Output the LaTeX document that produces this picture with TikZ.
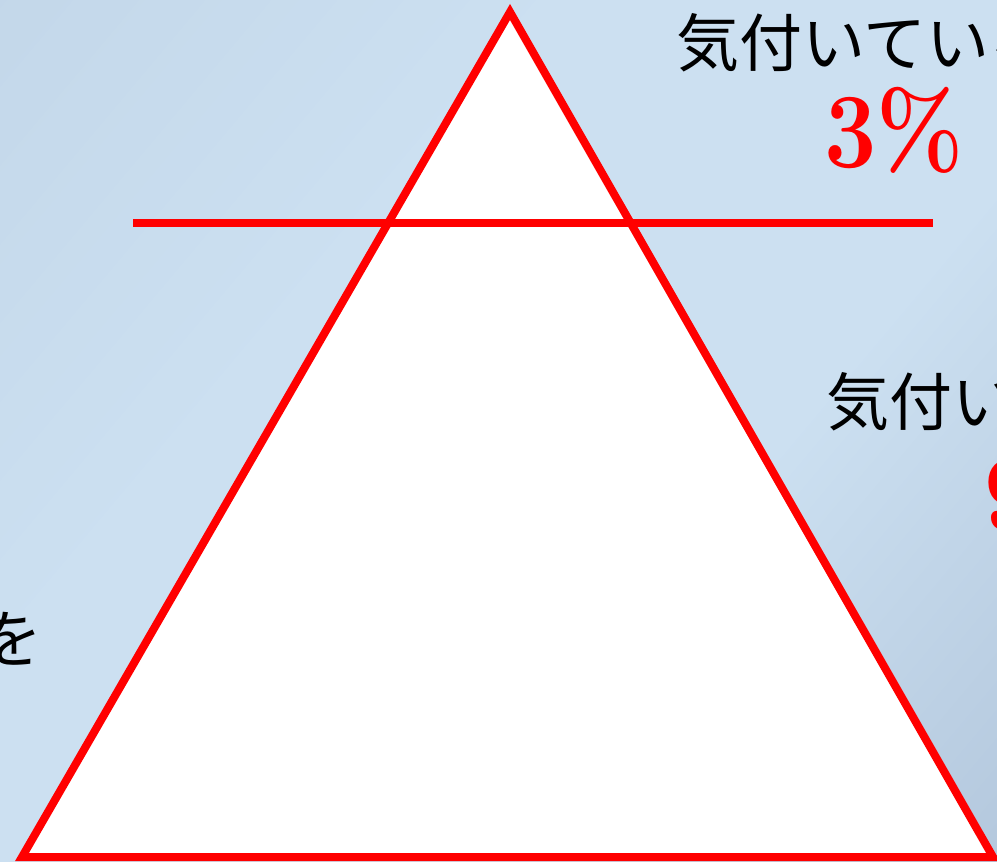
\documentclass[tikz,border=0pt]{standalone}
\usepackage{fontspec}
\usepackage{graphicx}
\newfontfamily\jpfont{Noto Sans CJK JP}
\definecolor{bgA}{RGB}{190,210,229}
\definecolor{bgB}{RGB}{204,224,241}
\definecolor{bgC}{RGB}{165,185,209}
\pgfdeclarehorizontalshading{bgshade}{100bp}{color(0bp)=(bgA); color(38bp)=(bgB); color(62bp)=(bgB); color(100bp)=(bgC)}
\newcommand{\pcttxt}[1]{\scalebox{0.87}[1]{#1}}
\tikzset{
  redline/.style={draw=red, line width=8pt},
  jptext/.style={inner sep=0pt, font=\jpfont\fontsize{63}{63}\selectfont, text=black},
  pcttext/.style={inner sep=0pt, font=\bfseries\fontsize{107}{107}\selectfont, text=red}
}
\begin{document}
\begin{tikzpicture}[x=1pt,y=-1pt]
\useasboundingbox (0,0) rectangle (997,862);
\clip (0,0) rectangle (997,862);
\shade[shading=bgshade, shading angle=-40] (0,0) rectangle (997,862);
\coordinate (apex) at (510,12);
\coordinate (bl) at (22,857);
\coordinate (br) at (993,857);
\coordinate (hl) at (133,223);
\coordinate (hr) at (933,223);
\draw[redline, fill=white, line join=miter] (apex) -- (br) -- (bl) -- cycle;
\draw[redline] (hl) -- (hr);
\node[jptext, anchor=base west] (t1) at (676,66) {気付いている};
\node[pcttext, anchor=base west] (p1) at (824,167) {\pcttxt{3\%}};
\node[jptext, anchor=base west] (t2) at (826,425) {気付いてい};
\node[pcttext, anchor=base west] (p2) at (984,529) {\pcttxt{97\%}};
\node[jptext, anchor=base east] (t3) at (43,662) {を};
\end{tikzpicture}
\end{document}
